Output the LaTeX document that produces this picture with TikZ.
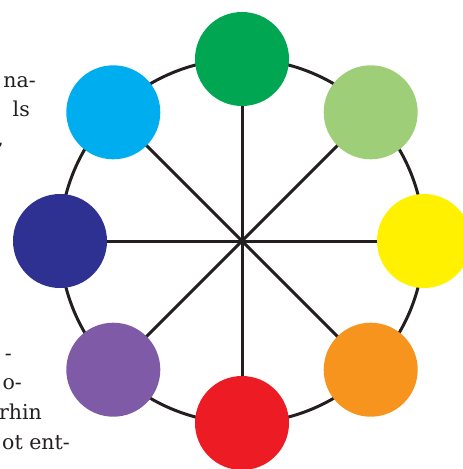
\documentclass[tikz,border=0pt]{standalone}
\usepackage{fontspec}
\newfontfamily\txtfont{DejaVu Serif}
\usetikzlibrary{backgrounds}
\definecolor{ink}{HTML}{231F20}
\definecolor{txtc}{HTML}{231F20}
\definecolor{cgreen}{HTML}{00A651}
\definecolor{clgreen}{HTML}{9FCE78}
\definecolor{cyellow}{HTML}{FFF100}
\definecolor{corange}{HTML}{F7941E}
\definecolor{cred}{HTML}{ED1C24}
\definecolor{cpurple}{HTML}{7F5BA7}
\definecolor{cnavy}{HTML}{2E3192}
\definecolor{ccyan}{HTML}{00AEEF}
\tikzset{
  dot/.style={circle, minimum size=94pt, inner sep=0pt, draw=none},
  wire/.style={draw=ink, line width=3pt},
  frag/.style={anchor=base east, inner sep=0pt, text=txtc, font=\txtfont\fontsize{20.5}{29}\selectfont}
}
\begin{document}
\begin{tikzpicture}[x=1pt,y=-1pt]
\useasboundingbox (0,0) rectangle (463,469);
\clip (0,0) rectangle (463,469);
\coordinate (hub) at (242,241);
\node[dot, fill=cgreen]  (g)  at (242,59) {};
\node[dot, fill=clgreen] (lg) at (370.7,112.3) {};
\node[dot, fill=cyellow] (y)  at (424,241) {};
\node[dot, fill=corange] (o)  at (370.7,369.7) {};
\node[dot, fill=cred]    (r)  at (242,423) {};
\node[dot, fill=cpurple] (p)  at (113.3,369.7) {};
\node[dot, fill=cnavy]   (n)  at (60,241) {};
\node[dot, fill=ccyan]   (c)  at (113.3,112.3) {};
\begin{pgfonlayer}{background}
  \draw[wire] (hub) circle[radius=182];
  \foreach \t in {g,lg,y,o,r,p,n,c} \draw[wire] (hub) -- (\t.center);
\end{pgfonlayer}
\node[frag] (t1) at (36,87) {na-};
\node[frag] (t2) at (30,116) {ls};
\node[frag] (t3) at (4,145) {,};
\node[frag] (t4) at (12,360) {-};
\node[frag] (t5) at (22,389) {o-};
\node[frag] (t6) at (42,419) {rhin};
\node[frag] (t7) at (70,449) {ot ent-};
\end{tikzpicture}
\end{document}
